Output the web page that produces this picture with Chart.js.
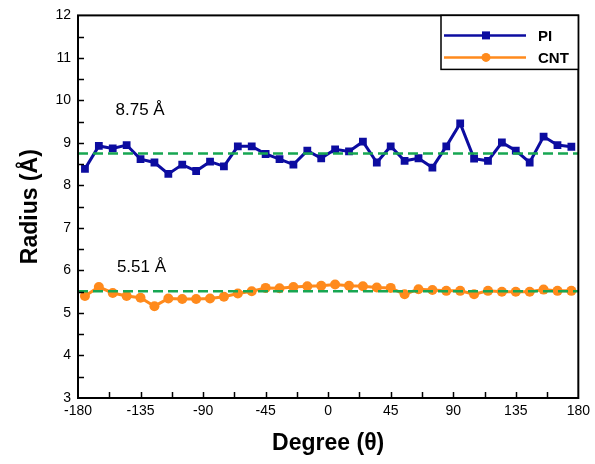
<!DOCTYPE html>
<html>
<head>
<meta charset="utf-8">
<script src="https://cdn.jsdelivr.net/npm/chart.js@4.4.1/dist/chart.umd.min.js"></script>
<style>
  html, body { margin: 0; padding: 0; background: #fff; }
  canvas { display: block; }
</style>
</head>
<body>
<canvas id="radiusChart" width="595" height="464"></canvas>
<script>
// angle of each sample (degrees)
const angles = [-175, -165, -155, -145, -135, -125, -115, -105, -95, -85, -75, -65,
  -55, -45, -35, -25, -15, -5, 5, 15, 25, 35, 45, 55,
  65, 75, 85, 95, 105, 115, 125, 135, 145, 155, 165, 175];

const piRadius = [8.39, 8.93, 8.87, 8.95, 8.62, 8.54, 8.27, 8.49, 8.34, 8.56, 8.45, 8.92,
  8.92, 8.74, 8.62, 8.49, 8.82, 8.64, 8.85, 8.80, 9.03, 8.54, 8.92, 8.58,
  8.64, 8.42, 8.92, 9.46, 8.63, 8.58, 9.01, 8.82, 8.54, 9.15, 8.95, 8.91];

const cntRadius = [5.40, 5.61, 5.47, 5.40, 5.36, 5.16, 5.34, 5.33, 5.33, 5.34, 5.38, 5.46,
  5.51, 5.59, 5.58, 5.61, 5.63, 5.64, 5.67, 5.64, 5.63, 5.60, 5.59, 5.44,
  5.56, 5.54, 5.52, 5.52, 5.44, 5.52, 5.50, 5.50, 5.50, 5.55, 5.52, 5.52];

const piMean = 8.75;
const cntMean = 5.51;
const seriesNames = ["PI", "CNT"];
const xTickValues = [-180, -135, -90, -45, 0, 45, 90, 135, 180];
const yTickValues = [3, 4, 5, 6, 7, 8, 9, 10, 11, 12];

const FONT = "'Liberation Sans', Arial, sans-serif";
const BLUE = "#0c0ca0";
const ORANGE = "#ff8a1c";
const GREEN = "#17a652";

const toPoints = (xs, ys) => xs.map((x, i) => ({ x: x, y: ys[i] }));

// frame, inward ticks, mean labels and the boxed legend
const decorations = {
  id: "decorations",
  afterDraw(chart) {
    const ctx = chart.ctx;
    const area = chart.chartArea;
    const xs = chart.scales.x;
    const ys = chart.scales.y;

    ctx.save();
    ctx.strokeStyle = "#000";
    ctx.lineWidth = 1.5;
    for (let v = -157.5; v < 180; v += 22.5) {
      const px = Math.round(xs.getPixelForValue(v)) + 0.5;
      ctx.beginPath();
      ctx.moveTo(px, area.bottom);
      ctx.lineTo(px, area.bottom - 6);
      ctx.stroke();
    }
    for (let v = 3.5; v < 12; v += 0.5) {
      const py = Math.round(ys.getPixelForValue(v)) + 0.5;
      ctx.beginPath();
      ctx.moveTo(area.left, py);
      ctx.lineTo(area.left + 6, py);
      ctx.stroke();
    }

    ctx.lineWidth = 2;
    ctx.strokeRect(area.left, area.top, area.right - area.left, area.bottom - area.top);

    // mean value labels
    ctx.fillStyle = "#000";
    ctx.font = "17px " + FONT;
    ctx.textAlign = "left";
    ctx.textBaseline = "alphabetic";
    ctx.fillText(piMean.toFixed(2) + " Å", xs.getPixelForValue(-153), ys.getPixelForValue(9.72) + 3);
    ctx.fillText(cntMean.toFixed(2) + " Å", xs.getPixelForValue(-152), ys.getPixelForValue(5.6) - 15);

    // legend box
    const lx = 441, ly = area.top, lw = area.right - 441, lh = 54;
    ctx.fillStyle = "#fff";
    ctx.fillRect(lx, ly, lw, lh);
    ctx.lineWidth = 1.5;
    ctx.strokeStyle = "#000";
    ctx.strokeRect(lx, ly, lw, lh);
    const rows = [
      { name: seriesNames[0], color: BLUE, y: ly + 20, shape: "rect" },
      { name: seriesNames[1], color: ORANGE, y: ly + 42, shape: "circle" }
    ];
    rows.forEach(r => {
      ctx.strokeStyle = r.color;
      ctx.lineWidth = 2.5;
      ctx.beginPath();
      ctx.moveTo(lx + 3, r.y);
      ctx.lineTo(lx + 85, r.y);
      ctx.stroke();
      ctx.fillStyle = r.color;
      if (r.shape === "rect") {
        ctx.fillRect(lx + 41, r.y - 4, 8, 8);
      } else {
        ctx.beginPath();
        ctx.arc(lx + 45, r.y, 4.5, 0, Math.PI * 2);
        ctx.fill();
      }
      ctx.fillStyle = "#000";
      ctx.font = "bold 15px " + FONT;
      ctx.textBaseline = "middle";
      ctx.fillText(r.name, lx + 97, r.y + 1);
    });
    ctx.restore();
  }
};

new Chart(document.getElementById("radiusChart"), {
  type: "line",
  data: {
    datasets: [
      {
        label: "PI mean",
        data: toPoints([-180, 180], [piMean, piMean]),
        borderColor: GREEN,
        borderWidth: 2.5,
        borderDash: [10, 5],
        pointRadius: 0
      },
      {
        label: "CNT mean",
        data: toPoints([-180, 180], [cntMean, cntMean]),
        borderColor: GREEN,
        borderWidth: 2.5,
        borderDash: [10, 5],
        pointRadius: 0
      },
      {
        label: seriesNames[0],
        data: toPoints(angles, piRadius),
        borderColor: BLUE,
        backgroundColor: BLUE,
        borderWidth: 3,
        pointStyle: "rect",
        pointRadius: 5.5,
        pointBorderWidth: 0,
        tension: 0
      },
      {
        label: seriesNames[1],
        data: toPoints(angles, cntRadius),
        borderColor: ORANGE,
        backgroundColor: ORANGE,
        borderWidth: 3,
        pointStyle: "circle",
        pointRadius: 5,
        pointBorderWidth: 0,
        tension: 0
      }
    ]
  },
  options: {
    responsive: false,
    animation: false,
    devicePixelRatio: 1,
    layout: { padding: { left: 0, right: 15, top: 14, bottom: 0 } },
    plugins: {
      legend: { display: false },
      tooltip: { enabled: false }
    },
    scales: {
      x: {
        type: "linear",
        min: -180,
        max: 180,
        afterFit: (scale) => { scale.height = 66; },
        afterBuildTicks: (scale) => { scale.ticks = xTickValues.map(v => ({ value: v })); },
        grid: { display: false, drawTicks: false },
        border: { display: false },
        ticks: {
          padding: 5,
          color: "#000",
          maxRotation: 0,
          autoSkip: false,
          font: { family: FONT, size: 14 }
        },
        title: {
          display: true,
          text: "Degree (θ)",
          color: "#000",
          font: { family: FONT, size: 23, weight: "bold", lineHeight: 1.2 },
          padding: { top: 0, bottom: 7 }
        }
      },
      y: {
        min: 3,
        max: 12,
        afterFit: (scale) => { scale.width = 78; },
        afterBuildTicks: (scale) => { scale.ticks = yTickValues.map(v => ({ value: v })); },
        grid: { display: false, drawTicks: false },
        border: { display: false },
        ticks: {
          padding: 7,
          color: "#000",
          font: { family: FONT, size: 14 }
        },
        title: {
          display: true,
          text: "Radius (Å)",
          color: "#000",
          font: { family: FONT, size: 23, weight: "bold", lineHeight: 1.2 },
          padding: { top: 17, bottom: 0 }
        }
      }
    }
  },
  plugins: [decorations]
});
</script>
</body>
</html>
